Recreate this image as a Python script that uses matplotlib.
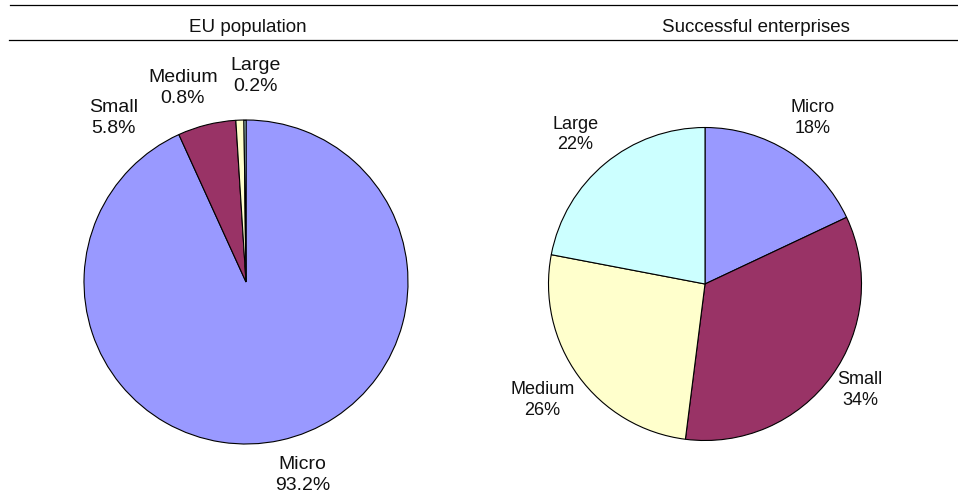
import matplotlib
matplotlib.use("Agg")
import matplotlib.pyplot as plt
from matplotlib.lines import Line2D

plt.rcParams['font.family'] = ['Liberation Sans', 'DejaVu Sans']

# Data
categories = ["Micro", "Small", "Medium", "Large"]
eu_population = [93.2, 5.8, 0.8, 0.2]
successful = [18, 34, 26, 22]
eu_labels = ["93.2%", "5.8%", "0.8%", "0.2%"]
succ_labels = ["18%", "34%", "26%", "22%"]
colors = ["#9999FF", "#993366", "#FFFFCC", "#CCFFFF"]

W, H = 958, 497
fig = plt.figure(figsize=(W / 100, H / 100), dpi=100)


def px_axes(cx, cy, r):
    return fig.add_axes([(cx - r) / W, (H - cy - r) / H, 2 * r / W, 2 * r / H])


# label anchor points, in units of the pie radius
eu_label_pos = [(0.35, -1.19), (-0.82, 1.01), (-0.39, 1.20), (0.06, 1.27)]
succ_label_pos = [(0.69, 1.06), (0.99, -0.68), (-1.04, -0.74), (-0.83, 0.955)]


def draw_pie(ax, values, pcts, pos, fsize):
    ax.pie(values, colors=colors, startangle=90, counterclock=False,
           radius=1, wedgeprops=dict(edgecolor="black", linewidth=0.8))
    ax.set_xlim(-1, 1)
    ax.set_ylim(-1, 1)
    ax.set_aspect("equal")
    ax.axis("off")
    for name, pct, (x, y) in zip(categories, pcts, pos):
        ax.text(x, y, f"{name}\n{pct}", ha="center", va="center",
                fontsize=fsize, color="#111111", linespacing=1.3,
                multialignment="center", clip_on=False)


ax1 = px_axes(246, 282, 162)
draw_pie(ax1, eu_population, eu_labels, eu_label_pos, 14)

ax2 = px_axes(705, 284, 156.5)
draw_pie(ax2, successful, succ_labels, succ_label_pos, 13)

# header rules and titles
fig.add_artist(Line2D([10 / W, 1], [1 - 5 / H, 1 - 5 / H], color="black", linewidth=0.9))
fig.add_artist(Line2D([9 / W, 1], [1 - 39.5 / H, 1 - 39.5 / H], color="black", linewidth=0.9))
fig.text(248 / W, 1 - 28 / H, "EU population", ha="center", va="center",
         fontsize=13.5, color="#111111")
fig.text(756 / W, 1 - 28 / H, "Successful enterprises", ha="center", va="center",
         fontsize=13.5, color="#111111")

fig.savefig("out.png", dpi=100, facecolor="white")
